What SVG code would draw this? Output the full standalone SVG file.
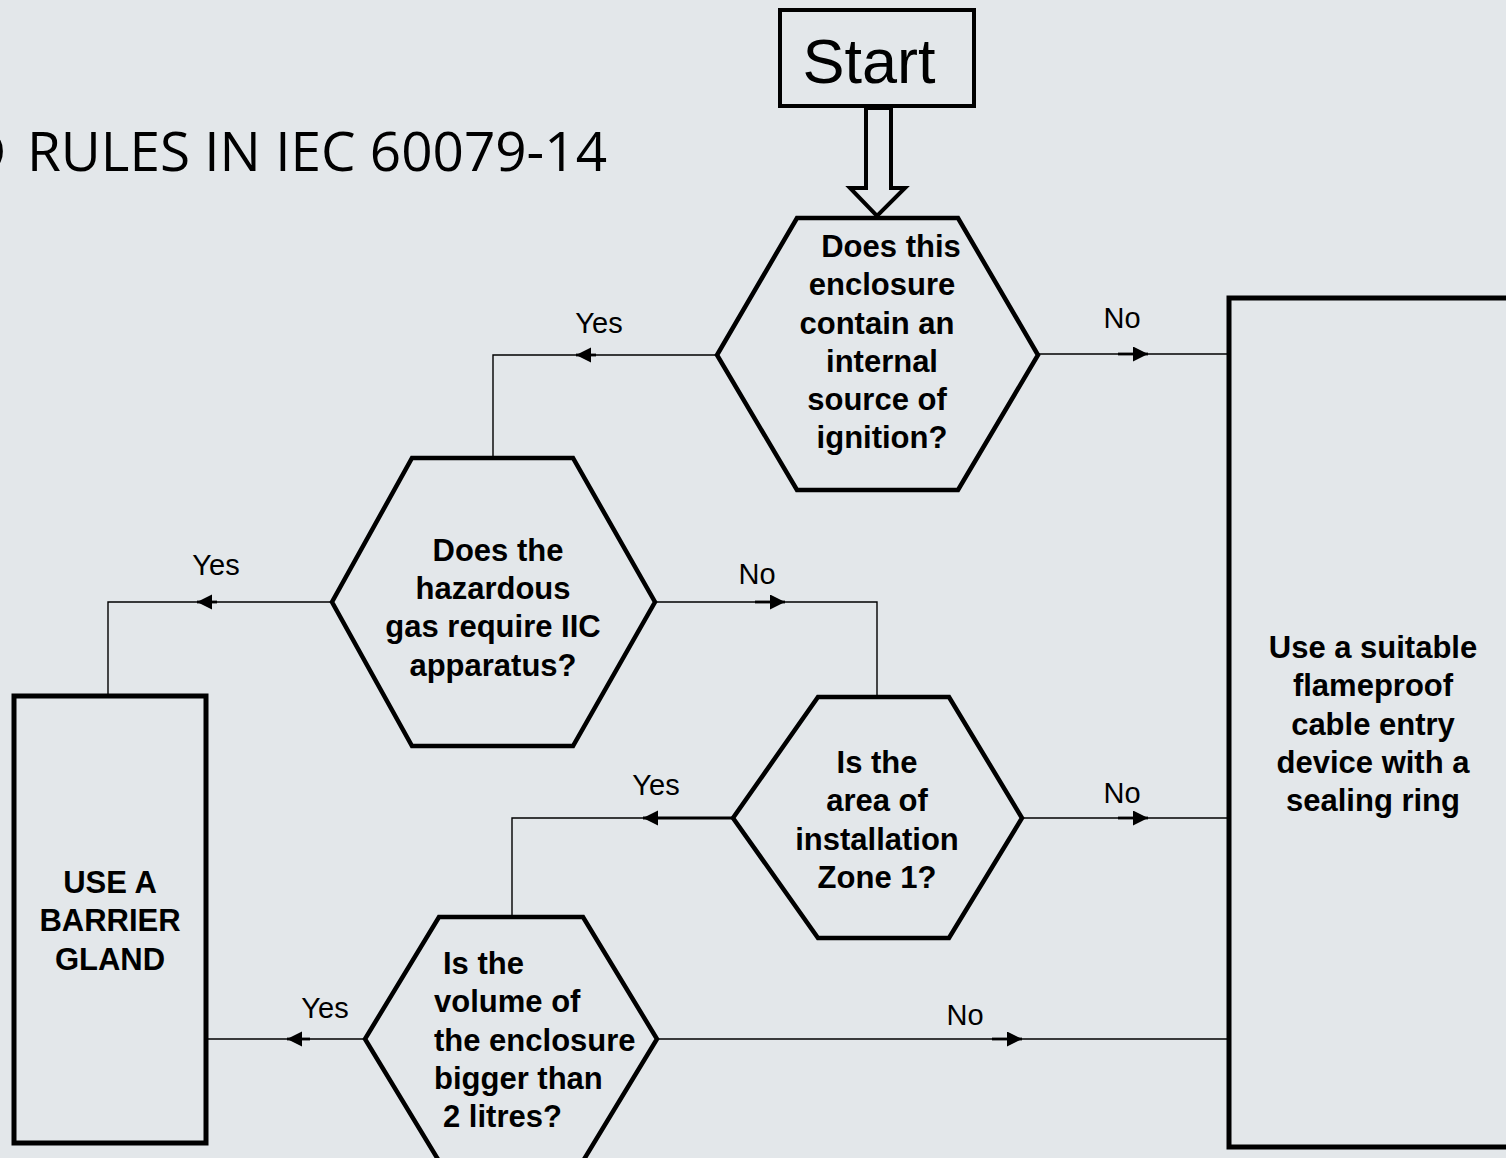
<svg xmlns="http://www.w3.org/2000/svg" width="1506" height="1158" viewBox="0 0 1506 1158">
<style>
.bg{fill:#e3e7ea}
.shape{fill:#e3e7ea;stroke:#000;stroke-width:4.5;stroke-linejoin:miter}
.box{fill:#e3e7ea;stroke:#000;stroke-width:5}
.q{font-family:"Liberation Sans",Arial,sans-serif;font-weight:bold;font-size:31px;fill:#000;text-anchor:middle}
.ql{font-family:"Liberation Sans",Arial,sans-serif;font-weight:bold;font-size:31px;fill:#000}
.lbl{font-family:"Liberation Sans",Arial,sans-serif;font-size:29px;fill:#000;text-anchor:middle}
.wire{fill:none;stroke:#000;stroke-width:1.4}
.arr{fill:none;stroke:#000;stroke-width:2.8}
</style>
<defs>
<marker id="ah" markerUnits="userSpaceOnUse" markerWidth="16" markerHeight="16" refX="15" refY="7.5" orient="auto">
<path d="M0,0 L15,7.5 L0,15 Z" fill="#000"/>
</marker>
</defs>
<rect class="bg" x="0" y="0" width="1506" height="1158"/>
<text font-family="'Open Sans','Liberation Sans',sans-serif" font-size="54" fill="#000"><tspan x="-33" y="171">D</tspan><tspan x="27" y="171" textLength="580" lengthAdjust="spacingAndGlyphs">RULES IN IEC 60079-14</tspan></text>

<g id="connectors">
<polygon points="866,108 866,188 850,188 877,216 905,188 891,188 891,108" fill="#e3e7ea" stroke="#000" stroke-width="4" stroke-linejoin="miter"/>
<path class="wire" d="M717,355 H493 V458"/>
<path class="arr" d="M596,355 H576" marker-end="url(#ah)"/>
<path class="wire" d="M1038,354 H1228"/>
<path class="arr" d="M1118,354 H1148" marker-end="url(#ah)"/>
<path class="wire" d="M332,602 H108 V695"/>
<path class="arr" d="M217,602 H197" marker-end="url(#ah)"/>
<path class="wire" d="M655,602 H877 V697"/>
<path class="arr" d="M755,602 H785" marker-end="url(#ah)"/>
<path class="wire" d="M733,818 H512 V917"/>
<path class="arr" d="M733,818 H643" marker-end="url(#ah)"/>
<path class="wire" d="M1022,818 H1228"/>
<path class="arr" d="M1118,818 H1148" marker-end="url(#ah)"/>
<path class="wire" d="M365,1039 H207"/>
<path class="arr" d="M310,1039 H287" marker-end="url(#ah)"/>
<path class="wire" d="M657,1039 H1228"/>
<path class="arr" d="M992,1039 H1022" marker-end="url(#ah)"/>
<text class="lbl" x="599" y="333">Yes</text>
<text class="lbl" x="1122" y="328">No</text>
<text class="lbl" x="216" y="575">Yes</text>
<text class="lbl" x="757" y="584">No</text>
<text class="lbl" x="656" y="795">Yes</text>
<text class="lbl" x="1122" y="803">No</text>
<text class="lbl" x="325" y="1018">Yes</text>
<text class="lbl" x="965" y="1025">No</text>
</g>

<g id="start">
<rect x="780" y="10" width="194" height="96" fill="#e3e7ea" stroke="#000" stroke-width="4"/>
<text x="869" y="83" font-family="'Liberation Sans',Arial,sans-serif" font-size="63" text-anchor="middle" fill="#000">Start</text>
</g>

<g id="q-ignition">
<polygon class="shape" points="797,218 958,218 1038,355 958,490 797,490 717,355"/>
<text class="q" x="891" y="257">Does this</text>
<text class="q" x="882" y="295">enclosure</text>
<text class="q" x="877" y="334">contain an</text>
<text class="q" x="882" y="372">internal</text>
<text class="q" x="877" y="410">source of</text>
<text class="q" x="882" y="448">ignition?</text>
</g>

<g id="q-gas">
<polygon class="shape" points="412,458 573,458 655,602 573,746 412,746 332,602"/>
<text class="q" x="498" y="561">Does the</text>
<text class="q" x="493" y="599">hazardous</text>
<text class="q" x="493" y="637">gas require IIC</text>
<text class="q" x="493" y="676">apparatus?</text>
</g>

<g id="q-zone">
<polygon class="shape" points="818,697 949,697 1022,818 949,938 818,938 733,818"/>
<text class="q" x="877" y="773">Is the</text>
<text class="q" x="877" y="811">area of</text>
<text class="q" x="877" y="850">installation</text>
<text class="q" x="877" y="888">Zone 1?</text>
</g>

<g id="q-volume">
<polygon class="shape" points="439,917 583,917 657,1039 583,1161 439,1161 365,1039"/>
<text class="ql" x="443" y="974">Is the</text>
<text class="ql" x="434" y="1012">volume of</text>
<text class="ql" x="434" y="1051">the enclosure</text>
<text class="ql" x="434" y="1089">bigger than</text>
<text class="ql" x="443" y="1127">2 litres?</text>
</g>

<g id="barrier">
<rect class="box" x="14" y="696" width="192" height="447"/>
<text class="q" x="110" y="893">USE A</text>
<text class="q" x="110" y="931">BARRIER</text>
<text class="q" x="110" y="970">GLAND</text>
</g>

<g id="flameproof">
<rect class="box" x="1229" y="298" width="320" height="849"/>
<text class="q" x="1373" y="658">Use a suitable</text>
<text class="q" x="1373" y="696">flameproof</text>
<text class="q" x="1373" y="735">cable entry</text>
<text class="q" x="1373" y="773">device with a</text>
<text class="q" x="1373" y="811">sealing ring</text>
</g>
</svg>
